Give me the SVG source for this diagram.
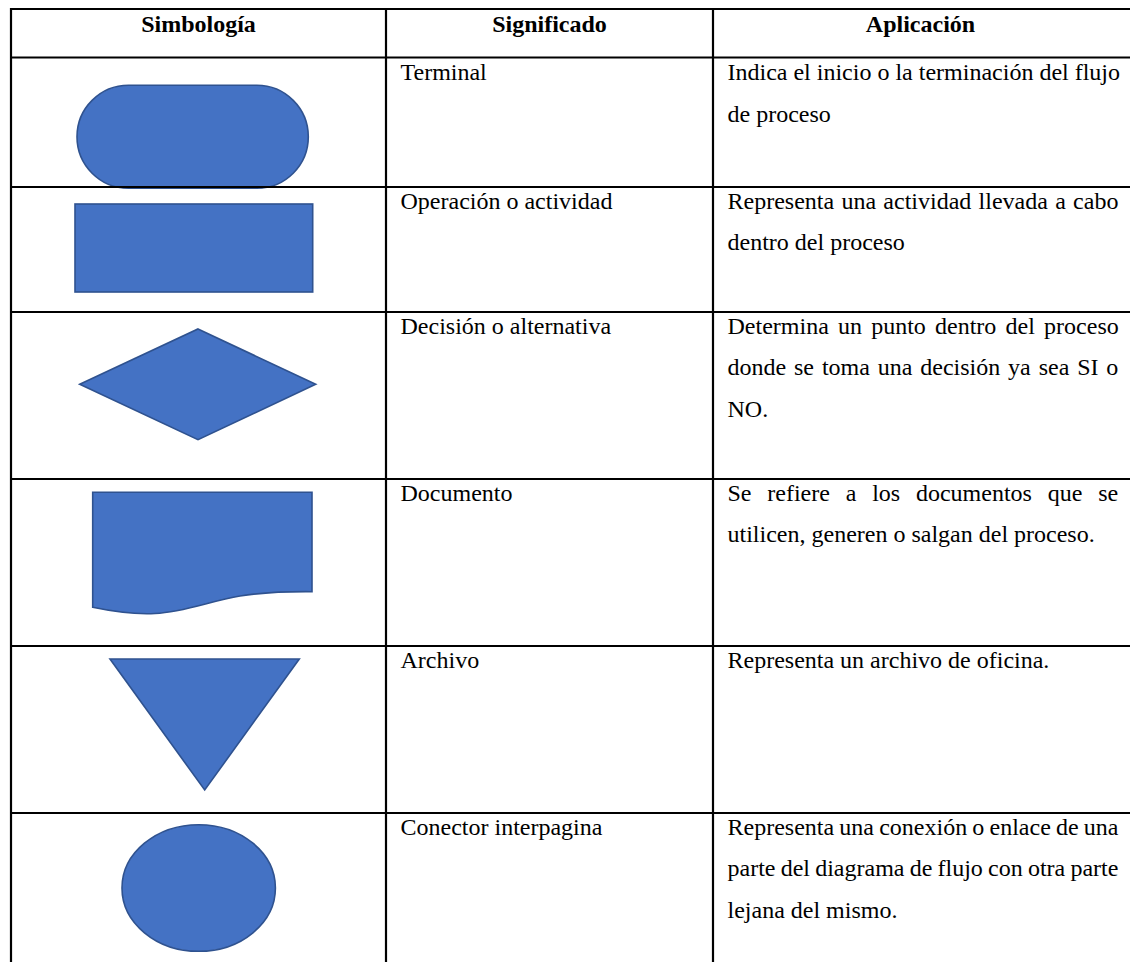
<svg xmlns="http://www.w3.org/2000/svg" width="1130" height="962" viewBox="0 0 1130 962">
<style>
.shape{fill:#4472C4;stroke:#2F528F;stroke-width:1.6}
.grid line{stroke:#000;stroke-width:2.2}
text{font-family:"Liberation Serif","Times New Roman",serif;font-size:24px;fill:#000}
.h{font-weight:bold;text-anchor:middle}
</style>
<rect x="0" y="0" width="1130" height="962" fill="#fff"/>
<g id="header">
<text class="h" x="198.5" y="32">Simbología</text>
<text class="h" x="549.5" y="32">Significado</text>
<text class="h" x="920.5" y="32">Aplicación</text>
</g>
<g id="row-terminal">
<rect class="shape" x="77" y="85.3" width="231.3" height="103" rx="51.5" ry="51.5"/>
<text x="400.5" y="80">Terminal</text>
<text x="727.5" y="80">Indica el inicio o la terminación del flujo</text>
<text x="727.5" y="121.7">de proceso</text>
</g>
<g id="row-operacion">
<rect class="shape" x="75" y="204" width="237.7" height="88"/>
<text x="400.5" y="208.5">Operación o actividad</text>
<text x="727.5" y="208.5" word-spacing="1.28">Representa una actividad llevada a cabo</text>
<text x="727.5" y="250">dentro del proceso</text>
</g>
<g id="row-decision">
<polygon class="shape" points="198,329 315.7,384.3 198,439.7 79.7,384.3"/>
<text x="400.5" y="333.5">Decisión o alternativa</text>
<text x="727.5" y="333.5" word-spacing="3.2">Determina un punto dentro del proceso</text>
<text x="727.5" y="375" word-spacing="1.87">donde se toma una decisión ya sea SI o</text>
<text x="727.5" y="416.7">NO.</text>
</g>
<g id="row-documento">
<path class="shape" d="M92.7,492.3 H312 V591.7 C290,591.5 265,592 240,596 C210,601 185,612 155,613.5 C135,614.5 115,612 92.7,607.3 Z"/>
<text x="400.5" y="500.5">Documento</text>
<text x="727.5" y="500.5" word-spacing="9.8">Se refiere a los documentos que se</text>
<text x="727.5" y="542">utilicen, generen o salgan del proceso.</text>
</g>
<g id="row-archivo">
<polygon class="shape" points="110,659 299.3,659 204.7,790"/>
<text x="400.5" y="667.5">Archivo</text>
<text x="727.5" y="667.5">Representa un archivo de oficina.</text>
</g>
<g id="row-conector">
<ellipse class="shape" cx="198.7" cy="888" rx="76.7" ry="63.3"/>
<text x="400.5" y="834.5">Conector interpagina</text>
<text x="727.5" y="834.5" word-spacing="-0.8">Representa una conexión o enlace de una</text>
<text x="727.5" y="876" word-spacing="-0.8">parte del diagrama de flujo con otra parte</text>
<text x="727.5" y="917.5">lejana del mismo.</text>
</g>
<g id="grid" class="grid">
<line x1="10" y1="9" x2="1130" y2="9"/>
<line x1="10" y1="57.5" x2="1130" y2="57.5"/>
<line x1="10" y1="187" x2="1130" y2="187"/>
<line x1="10" y1="312" x2="1130" y2="312"/>
<line x1="10" y1="479" x2="1130" y2="479"/>
<line x1="10" y1="646" x2="1130" y2="646"/>
<line x1="10" y1="813" x2="1130" y2="813"/>
<line x1="11" y1="8" x2="11" y2="962"/>
<line x1="386" y1="8" x2="386" y2="962"/>
<line x1="713" y1="8" x2="713" y2="962"/>
</g>
</svg>
